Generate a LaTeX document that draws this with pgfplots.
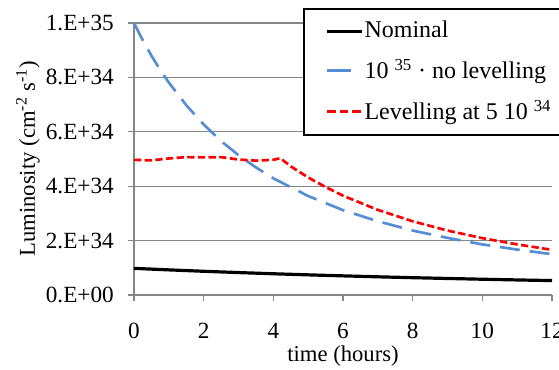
\documentclass[border=0pt]{standalone}
\usepackage{fontspec}
\setmainfont{Liberation Serif}
\usepackage{pgfplots}
\pgfplotsset{compat=1.18}
\definecolor{lblue}{RGB}{85,142,213}
\definecolor{gridgray}{RGB}{134,134,134}
\pgfplotsset{
  bluelegend/.style={legend image code/.code={\draw[##1, dash pattern=on 18pt off 10pt] (0pt,0pt) -- (26pt,0pt);}},
  redlegend/.style={legend image code/.code={\draw[##1, dash pattern=on 6.5pt off 3pt] (0pt,0pt) -- (26pt,0pt);}},
}
\begin{document}
\fontsize{17}{20}\selectfont
\begin{tikzpicture}
\begin{axis}[
  scale only axis, width=313.5pt, height=204pt,
  xmin=0, xmax=12, ymin=0, ymax=10,
  axis lines*=left,
  axis line style={gridgray, line width=0.8pt},
  xtick={0,2,4,6,8,10,12}, ytick={0,2,4,6,8,10},
  xticklabels={0,2,4,6,8,10,12},
  yticklabels={0.E+00,2.E+34,4.E+34,6.E+34,8.E+34,1.E+35},
  ymajorgrids, grid style={gridgray, line width=0.8pt},
  tick align=outside, major tick length=4.5pt,
  tick style={gridgray, line width=0.8pt},
  tick label style={font=\fontsize{17.4}{20}\selectfont},
  xticklabel style={yshift=-10.5pt},
  yticklabel style={inner sep=0pt, xshift=-10.5pt},
  clip=false,
  xlabel={time (hours)},
  xlabel style={font=\fontsize{17}{20}\selectfont, at={(rel axis cs:0.5,0)}, anchor=base, yshift=-50pt},
  legend cell align=left,
  legend style={at={(axis cs:4.85,10.55)}, anchor=north west,
    draw=black, line width=1.6pt, font=\fontsize{18}{18}\selectfont,
    row sep=11.5pt, inner xsep=16pt, inner ysep=8pt,
    nodes={inner sep=1pt}},
  legend image code/.code={\draw[#1] (0pt,0pt) -- (26pt,0pt);},
]
\addplot[black, line width=2.4pt] coordinates {
(0,0.98) (1,0.924) (2,0.872) (3,0.825) (4,0.781) (5,0.741) (6,0.704)
(7,0.669) (8,0.637) (9,0.608) (10,0.580) (11,0.554) (12,0.530)};
\addlegendentry{Nominal}
\addplot[lblue, line width=2pt, dash pattern=on 15pt off 7.5pt, bluelegend] coordinates {
(0,10) (0.25,9.37) (0.5,8.80) (0.75,8.28) (1,7.81) (1.5,6.98) (2,6.27)
(2.5,5.66) (3,5.14) (3.5,4.69) (4,4.29) (5,3.64) (6,3.12)
(7,2.71) (8,2.37) (9,2.10) (10,1.86) (11,1.67) (12,1.50)};
\addlegendentry{10\ \textsuperscript{35}\ · no levelling}
\addplot[red, line width=2pt, dash pattern=on 5.5pt off 2.5pt, redlegend] coordinates {
(0,4.97) (0.5,4.95) (1,5.02) (1.5,5.07) (2,5.06) (2.5,5.07) (3,4.98)
(3.5,4.94) (4,4.97) (4.2,5.03) (4.5,4.73) (5,4.32) (5.5,3.97) (6,3.65)
(7,3.13) (8,2.71) (9,2.37) (10,2.09) (11,1.86) (12,1.66)};
\addlegendentry{Levelling at 5 10 \textsuperscript{34}}
\coordinate (O) at (axis cs:0,0);
\node[rotate=90, font=\fontsize{17}{20}\selectfont] at (rel axis cs:-0.2536,0.5) {Luminosity (cm\textsuperscript{-2} s\textsuperscript{-1})};
\end{axis}
\pgfresetboundingbox
\path ([shift={(-100.5pt,-55.5pt)}]O) rectangle ++(419.25pt,276.75pt);
\end{tikzpicture}
\end{document}
